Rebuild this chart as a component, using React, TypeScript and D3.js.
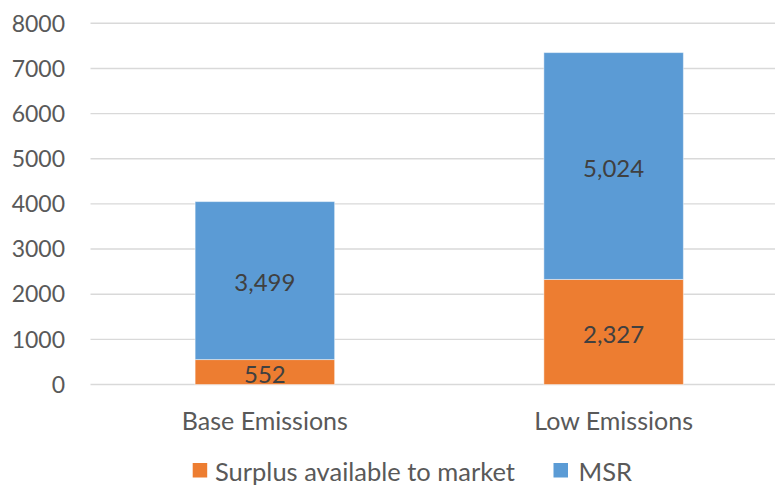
import React from "react";
import * as d3 from "d3";

const categories = ["Base Emissions", "Low Emissions"];
const surplus = [552, 2327];
const msr = [3499, 5024];
const seriesNames = ["Surplus available to market", "MSR"];
const yTicks = [0, 1000, 2000, 3000, 4000, 5000, 6000, 7000, 8000];

const W = 775;
const H = 486;
const FONT = "Lato, 'Open Sans', sans-serif";
const COLORS = ["#ED7D31", "#5B9BD5"];

export default function App() {
  const x = d3
    .scaleBand<string>()
    .domain(categories)
    .range([90.5, 788])
    .paddingInner(0.6)
    .paddingOuter(0.3);
  const y = d3.scaleLinear().domain([0, 8000]).range([384.5, 23.3]);

  const rows = categories.map((c, i) => ({ c, surplus: surplus[i], msr: msr[i] }));
  const stack = d3.stack<any>().keys(["surplus", "msr"])(rows);
  const fmt = d3.format(",");

  const legendItems = [
    { name: seriesNames[0], sx: 192.7, tx: 215 },
    { name: seriesNames[1], sx: 553.5, tx: 578.5 },
  ];

  return (
    <svg
      width={W}
      height={H}
      style={{ position: "absolute", left: 0, top: 0, background: "#fff" }}
      fontFamily={FONT}
    >
      {/* gridlines and y tick labels */}
      {yTicks.map((t) => (
        <g key={t}>
          <line x1={90.5} x2={W} y1={y(t)} y2={y(t)} stroke="#d9d9d9" strokeWidth={1.4} />
          <text
            x={65}
            y={y(t)}
            dy="0.36em"
            textAnchor="end"
            fontSize={23}
            fill="#595959"
          >
            {t}
          </text>
        </g>
      ))}

      {/* stacked bars */}
      {stack.map((s, si) =>
        s.map((d, i) => {
          const x0 = x(categories[i])!;
          const y0 = y(d[1]);
          const y1 = y(d[0]);
          return (
            <g key={`${si}-${i}`}>
              <rect
                x={x0}
                y={y0}
                width={x.bandwidth()}
                height={y1 - y0}
                fill={COLORS[si]}
                stroke="#ffffff"
                strokeOpacity={0.45}
                strokeWidth={1}
              />
              <text
                x={x0 + x.bandwidth() / 2}
                y={(y0 + y1) / 2 + 2}
                dy="0.36em"
                textAnchor="middle"
                fontSize={24}
                fill="#404040"
              >
                {fmt(d[1] - d[0])}
              </text>
            </g>
          );
        })
      )}

      {/* category labels */}
      {categories.map((c) => (
        <text
          key={c}
          x={x(c)! + x.bandwidth() / 2}
          y={430.3}
          textAnchor="middle"
          fontSize={25}
          fill="#595959"
        >
          {c}
        </text>
      ))}

      {/* legend */}
      {legendItems.map((l, i) => (
        <g key={l.name}>
          <rect x={l.sx} y={463} width={14.5} height={14.5} fill={COLORS[i]} />
          <text x={l.tx} y={480.5} fontSize={25.5} fill="#595959">
            {l.name}
          </text>
        </g>
      ))}
    </svg>
  );
}
